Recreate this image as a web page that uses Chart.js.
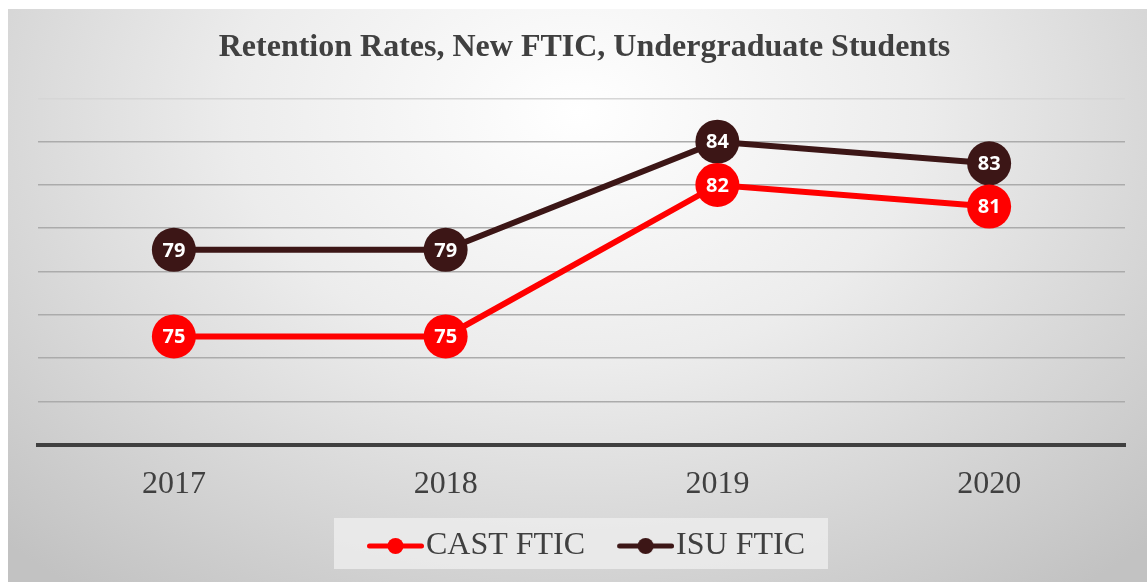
<!DOCTYPE html>
<html>
<head>
<meta charset="utf-8">
<script src="https://cdn.jsdelivr.net/npm/chart.js@4/dist/chart.umd.min.js"></script>
<style>
  html, body { margin: 0; padding: 0; background: #ffffff; }
  .chart-container {
    position: absolute;
    left: 8px;
    top: 9px;
    width: 1139px;
    height: 573px;
    background: radial-gradient(ellipse 72% 105% at 50% 18%, #ffffff 0%, #ececec 42%, #c2c2c2 100%);
  }
</style>
</head>
<body>
<div class="chart-container">
  <canvas id="chart" width="1139" height="573"></canvas>
</div>
<script>
const years = ['2017', '2018', '2019', '2020'];
const castFtic = [75, 75, 82, 81];
const isuFtic = [79, 79, 84, 83];
const yTicks = [70, 72, 74, 76, 78, 80, 82, 84, 86];

const castColor = '#ff0000';
const isuColor = '#3c1616';

// legend marker: line with a dot, padded on the left so text sits right after it
const makeMarker = (color) => {
  const c = document.createElement('canvas');
  c.width = 98;
  c.height = 20;
  const g = c.getContext('2d');
  g.strokeStyle = color;
  g.lineWidth = 5;
  g.lineCap = 'round';
  g.beginPath();
  g.moveTo(43.5, 10);
  g.lineTo(95.5, 10);
  g.stroke();
  g.fillStyle = color;
  g.beginPath();
  g.arc(69.5, 10, 8, 0, Math.PI * 2);
  g.fill();
  return c;
};

const legendBox = {
  id: 'legendBox',
  afterLayout(chart) {
    // nudge the legend so the visible markers+text are centred
    if (chart.legend) {
      chart.legend.left -= 12;
      chart.legend.right -= 12;
    }
  },
  beforeDraw(chart) {
    const boxes = chart.legend && chart.legend.legendHitBoxes;
    if (!boxes || boxes.length < 2) return;
    const ctx = chart.ctx;
    const first = boxes[0];
    const last = boxes[boxes.length - 1];
    const cy = first.top + first.height / 2;
    const left = first.left - 6;
    const right = last.left + last.width + 23;
    ctx.save();
    ctx.fillStyle = 'rgba(236,236,236,0.85)';
    ctx.fillRect(left, cy - 28, right - left, 51);
    ctx.restore();
  },
};

const valueLabels = {
  id: 'valueLabels',
  afterDatasetsDraw(chart) {
    const ctx = chart.ctx;
    ctx.save();
    ctx.fillStyle = '#ffffff';
    ctx.font = 'bold 20px "Noto Sans"';
    ctx.textAlign = 'center';
    ctx.textBaseline = 'middle';
    chart.data.datasets.forEach((ds, i) => {
      const meta = chart.getDatasetMeta(i);
      meta.data.forEach((pt, j) => {
        ctx.fillText(String(ds.data[j]), pt.x, pt.y + 1);
      });
    });
    ctx.restore();
  },
};

const ctx = document.getElementById('chart').getContext('2d');
new Chart(ctx, {
  type: 'line',
  data: {
    labels: years,
    datasets: [
      {
        label: 'CAST FTIC',
        data: castFtic,
        borderColor: castColor,
        backgroundColor: castColor,
        borderWidth: 6,
        pointStyle: 'circle',
        pointRadius: 22,
        pointHoverRadius: 22,
        pointBorderWidth: 0,
        pointBackgroundColor: castColor,
        tension: 0,
      },
      {
        label: 'ISU FTIC',
        data: isuFtic,
        borderColor: isuColor,
        backgroundColor: isuColor,
        borderWidth: 6,
        pointStyle: 'circle',
        pointRadius: 22,
        pointHoverRadius: 22,
        pointBorderWidth: 0,
        pointBackgroundColor: isuColor,
        tension: 0,
      },
    ],
  },
  options: {
    responsive: false,
    animation: false,
    layout: {
      padding: { left: 30, right: 16, top: 0, bottom: 10 },
    },
    plugins: {
      tooltip: { enabled: false },
      title: {
        display: true,
        text: 'Retention Rates, New FTIC, Undergraduate Students',
        color: '#404040',
        font: { family: '"Liberation Serif", "Times New Roman", serif', size: 32, weight: 'bold' },
        padding: { top: 20, bottom: 31 },
      },
      legend: {
        position: 'bottom',
        labels: {
          color: '#404040',
          font: { family: '"Liberation Serif", "Times New Roman", serif', size: 32 },
          usePointStyle: true,
          pointStyleWidth: 70,
          boxHeight: 16,
          padding: 5,
          generateLabels: (chart) => chart.data.datasets.map((ds, i) => ({
            text: ds.label,
            fillStyle: ds.borderColor,
            strokeStyle: ds.borderColor,
            fontColor: '#404040',
            lineWidth: 0,
            pointStyle: makeMarker(ds.borderColor),
            datasetIndex: i,
          })),
        },
      },
    },
    scales: {
      x: {
        offset: true,
        grid: { display: false, drawTicks: false },
        border: { display: true, color: '#404040', width: 4 },
        ticks: {
          color: '#404040',
          font: { family: '"Liberation Serif", "Times New Roman", serif', size: 32 },
          padding: 21,
        },
      },
      y: {
        min: yTicks[0],
        max: yTicks[yTicks.length - 1],
        afterBuildTicks: (axis) => {
          axis.ticks = yTicks.map((v) => ({ value: v }));
        },
        border: { display: false },
        grid: {
          drawTicks: false,
          lineWidth: 1.5,
          color: (c) => {
            if (c.tick.value === yTicks[0]) return 'rgba(0,0,0,0)';
            if (c.tick.value === yTicks[yTicks.length - 1]) return '#d6d6d6';
            return '#ababab';
          },
        },
        ticks: { display: false },
      },
    },
  },
  plugins: [legendBox, valueLabels],
});
</script>
</body>
</html>
